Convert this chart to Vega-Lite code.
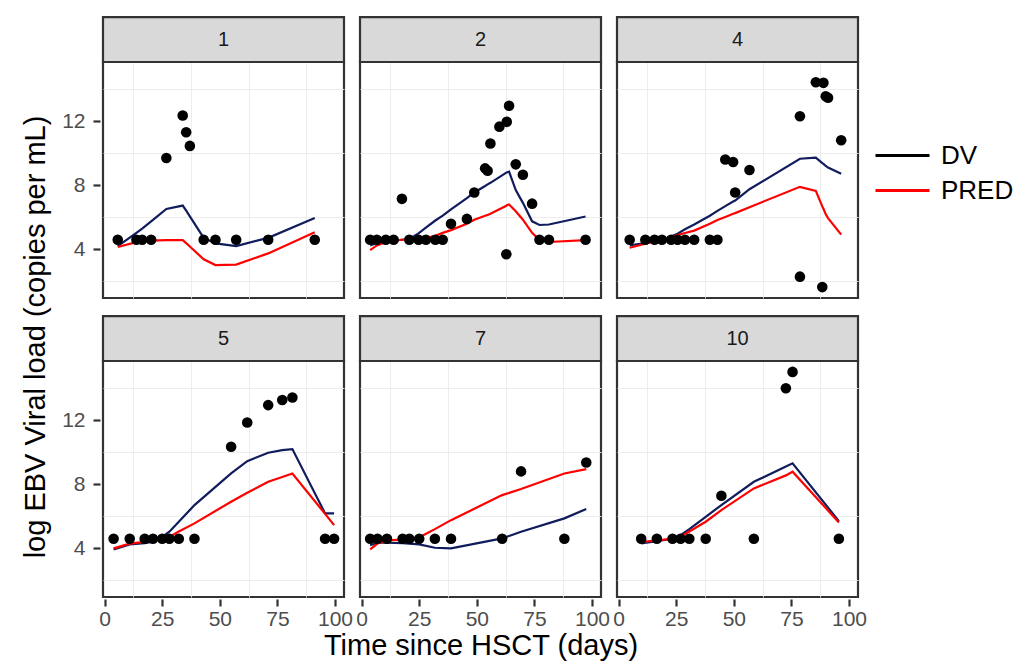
{
  "$schema": "https://vega.github.io/schema/vega-lite/v6.json",
  "background": "white",
  "padding": {"left": 21, "top": 13, "right": 0, "bottom": 4},
  "title": {"text": "log EBV Viral load (copies per mL)", "orient": "left", "anchor": "middle", "fontSize": 29, "fontWeight": "normal", "font": "Liberation Sans", "color": "#000000", "offset": 11},
  "data": {"values": [
    {"ID":1,"t":5.7,"DV":4.6,"IPRED":4.2,"PRED":4.15},
    {"ID":1,"t":13.8,"DV":4.6,"IPRED":5.03,"PRED":4.45},
    {"ID":1,"t":16.3,"DV":4.6,"IPRED":5.29,"PRED":4.5},
    {"ID":1,"t":20.2,"DV":4.6,"IPRED":5.75,"PRED":4.55},
    {"ID":1,"t":26.8,"DV":9.7,"IPRED":6.52,"PRED":4.58},
    {"ID":1,"t":33.9,"DV":12.35,"IPRED":6.73,"PRED":4.58},
    {"ID":1,"t":35.4,"DV":11.3,"IPRED":6.41,"PRED":4.39},
    {"ID":1,"t":37,"DV":10.45,"IPRED":6.06,"PRED":4.18},
    {"ID":1,"t":43,"DV":4.6,"IPRED":4.72,"PRED":3.38},
    {"ID":1,"t":48.1,"DV":4.6,"IPRED":4.37,"PRED":3.02},
    {"ID":1,"t":57.1,"DV":4.6,"IPRED":4.21,"PRED":3.05},
    {"ID":1,"t":71,"DV":4.6,"IPRED":4.72,"PRED":3.75},
    {"ID":1,"t":91.2,"DV":4.6,"IPRED":5.95,"PRED":5.07},
    {"ID":2,"t":3.7,"DV":4.6,"IPRED":4.25,"PRED":3.96},
    {"ID":2,"t":6.6,"DV":4.6,"IPRED":4.4,"PRED":4.25},
    {"ID":2,"t":10.5,"DV":4.6,"IPRED":4.5,"PRED":4.45},
    {"ID":2,"t":13.9,"DV":4.6,"IPRED":4.55,"PRED":4.55},
    {"ID":2,"t":17.5,"DV":7.15,"IPRED":4.6,"PRED":4.6},
    {"ID":2,"t":20.7,"DV":4.6,"IPRED":4.65,"PRED":4.6},
    {"ID":2,"t":24.7,"DV":4.6,"IPRED":5.0,"PRED":4.62},
    {"ID":2,"t":27.9,"DV":4.6,"IPRED":5.35,"PRED":4.7},
    {"ID":2,"t":32,"DV":4.6,"IPRED":5.8,"PRED":4.85},
    {"ID":2,"t":35.2,"DV":4.6,"IPRED":6.1,"PRED":5.03},
    {"ID":2,"t":38.8,"DV":5.6,"IPRED":6.5,"PRED":5.2},
    {"ID":2,"t":45.7,"DV":5.9,"IPRED":7.2,"PRED":5.6},
    {"ID":2,"t":48.9,"DV":7.55,"IPRED":7.55,"PRED":5.85},
    {"ID":2,"t":53.6,"DV":9.05,"IPRED":7.95,"PRED":6.1},
    {"ID":2,"t":54.7,"DV":8.9,"IPRED":8.05,"PRED":6.15},
    {"ID":2,"t":55.9,"DV":10.6,"IPRED":8.15,"PRED":6.22},
    {"ID":2,"t":59.8,"DV":11.65,"IPRED":8.5,"PRED":6.5},
    {"ID":2,"t":62.8,"DV":3.7,"IPRED":8.78,"PRED":6.72},
    {"ID":2,"t":63,"DV":11.95,"IPRED":8.8,"PRED":6.75},
    {"ID":2,"t":64,"DV":12.95,"IPRED":8.85,"PRED":6.8},
    {"ID":2,"t":66.9,"DV":9.3,"IPRED":7.7,"PRED":6.38},
    {"ID":2,"t":70,"DV":8.65,"IPRED":6.9,"PRED":5.85},
    {"ID":2,"t":74,"DV":6.85,"IPRED":5.75,"PRED":5.03},
    {"ID":2,"t":77.2,"DV":4.6,"IPRED":5.52,"PRED":4.58},
    {"ID":2,"t":81.3,"DV":4.6,"IPRED":5.55,"PRED":4.46},
    {"ID":2,"t":97.2,"DV":4.6,"IPRED":6.05,"PRED":4.58},
    {"ID":4,"t":4.8,"DV":4.6,"IPRED":4.25,"PRED":4.1},
    {"ID":4,"t":11.6,"DV":4.6,"IPRED":4.4,"PRED":4.35},
    {"ID":4,"t":15.6,"DV":4.6,"IPRED":4.5,"PRED":4.5},
    {"ID":4,"t":18.8,"DV":4.6,"IPRED":4.6,"PRED":4.6},
    {"ID":4,"t":22.8,"DV":4.6,"IPRED":4.8,"PRED":4.75},
    {"ID":4,"t":25.6,"DV":4.6,"IPRED":4.98,"PRED":4.9},
    {"ID":4,"t":28.8,"DV":4.6,"IPRED":5.25,"PRED":5.02},
    {"ID":4,"t":32.8,"DV":4.6,"IPRED":5.55,"PRED":5.17},
    {"ID":4,"t":39.6,"DV":4.6,"IPRED":6.1,"PRED":5.6},
    {"ID":4,"t":42.9,"DV":4.6,"IPRED":6.4,"PRED":5.83},
    {"ID":4,"t":46.3,"DV":9.6,"IPRED":6.7,"PRED":6.02},
    {"ID":4,"t":49.7,"DV":9.45,"IPRED":6.98,"PRED":6.22},
    {"ID":4,"t":50.6,"DV":7.55,"IPRED":7.04,"PRED":6.26},
    {"ID":4,"t":56.8,"DV":8.95,"IPRED":7.75,"PRED":6.63},
    {"ID":4,"t":78.7,"DV":12.3,"IPRED":9.65,"PRED":7.9},
    {"ID":4,"t":78.7,"DV":2.3,"IPRED":9.65,"PRED":7.9},
    {"ID":4,"t":85.6,"DV":14.42,"IPRED":9.72,"PRED":7.65},
    {"ID":4,"t":88.4,"DV":1.65,"IPRED":9.38,"PRED":6.68},
    {"ID":4,"t":88.9,"DV":14.38,"IPRED":9.33,"PRED":6.53},
    {"ID":4,"t":89.9,"DV":13.55,"IPRED":9.2,"PRED":6.19},
    {"ID":4,"t":90.9,"DV":13.45,"IPRED":9.1,"PRED":5.95},
    {"ID":4,"t":96.6,"DV":10.8,"IPRED":8.72,"PRED":4.92},
    {"ID":5,"t":3.9,"DV":4.6,"IPRED":3.94,"PRED":4.0},
    {"ID":5,"t":10.9,"DV":4.6,"IPRED":4.25,"PRED":4.3},
    {"ID":5,"t":17.4,"DV":4.6,"IPRED":4.32,"PRED":4.41},
    {"ID":5,"t":21,"DV":4.6,"IPRED":4.42,"PRED":4.55},
    {"ID":5,"t":25,"DV":4.6,"IPRED":4.72,"PRED":4.65},
    {"ID":5,"t":28.1,"DV":4.6,"IPRED":5.04,"PRED":4.72},
    {"ID":5,"t":32.2,"DV":4.6,"IPRED":5.66,"PRED":5.05},
    {"ID":5,"t":39,"DV":4.6,"IPRED":6.7,"PRED":5.56},
    {"ID":5,"t":54.9,"DV":10.33,"IPRED":8.67,"PRED":6.91},
    {"ID":5,"t":61.9,"DV":11.85,"IPRED":9.44,"PRED":7.47},
    {"ID":5,"t":71,"DV":12.93,"IPRED":9.96,"PRED":8.15},
    {"ID":5,"t":77.1,"DV":13.25,"IPRED":10.12,"PRED":8.45},
    {"ID":5,"t":81.5,"DV":13.4,"IPRED":10.19,"PRED":8.67},
    {"ID":5,"t":95.7,"DV":4.6,"IPRED":6.18,"PRED":6.15},
    {"ID":5,"t":99.6,"DV":4.6,"IPRED":6.18,"PRED":5.45},
    {"ID":7,"t":3.7,"DV":4.6,"IPRED":4.2,"PRED":3.94},
    {"ID":7,"t":6.9,"DV":4.6,"IPRED":4.35,"PRED":4.3},
    {"ID":7,"t":11,"DV":4.6,"IPRED":4.35,"PRED":4.5},
    {"ID":7,"t":17.8,"DV":4.6,"IPRED":4.33,"PRED":4.55},
    {"ID":7,"t":20.7,"DV":4.6,"IPRED":4.3,"PRED":4.6},
    {"ID":7,"t":25,"DV":4.6,"IPRED":4.25,"PRED":4.69},
    {"ID":7,"t":31.8,"DV":4.6,"IPRED":4.04,"PRED":5.2},
    {"ID":7,"t":38.8,"DV":4.6,"IPRED":4.0,"PRED":5.76},
    {"ID":7,"t":61,"DV":4.6,"IPRED":4.62,"PRED":7.32},
    {"ID":7,"t":69.2,"DV":8.8,"IPRED":5.04,"PRED":7.7},
    {"ID":7,"t":88,"DV":4.6,"IPRED":5.87,"PRED":8.67},
    {"ID":7,"t":97.5,"DV":9.35,"IPRED":6.45,"PRED":8.94},
    {"ID":10,"t":9.8,"DV":4.6,"IPRED":4.31,"PRED":4.4},
    {"ID":10,"t":16.6,"DV":4.6,"IPRED":4.45,"PRED":4.5},
    {"ID":10,"t":23.4,"DV":4.6,"IPRED":4.6,"PRED":4.6},
    {"ID":10,"t":26.9,"DV":4.6,"IPRED":4.83,"PRED":4.75},
    {"ID":10,"t":30.7,"DV":4.6,"IPRED":5.2,"PRED":5.05},
    {"ID":10,"t":37.8,"DV":4.6,"IPRED":5.97,"PRED":5.66},
    {"ID":10,"t":44.6,"DV":7.28,"IPRED":6.7,"PRED":6.39},
    {"ID":10,"t":58.7,"DV":4.6,"IPRED":8.15,"PRED":7.74},
    {"ID":10,"t":72.6,"DV":13.98,"IPRED":9.1,"PRED":8.55},
    {"ID":10,"t":75.5,"DV":15.0,"IPRED":9.3,"PRED":8.78},
    {"ID":10,"t":95.6,"DV":4.6,"IPRED":5.7,"PRED":5.62}
  ]},
  "facet": {"field": "ID", "type": "ordinal", "title": "Time since HSCT (days)",
    "header": {"labels": false, "labelExpr": "''", "labelFontSize": 1, "labelPadding": 0, "labelColor": "transparent", "titleOrient": "bottom", "titleFontSize": 29, "titleFont": "Liberation Sans", "titleFontWeight": "normal", "titleColor": "#000000", "titlePadding": 3}},
  "columns": 3,
  "spacing": {"row": 12, "column": 10},
  "spec": {
    "width": 241,
    "height": 236,
    "resolve": {"axis": {"x": "independent", "y": "independent"}},
    "layer": [
      {
        "transform": [{"aggregate": [{"op": "count", "as": "n"}], "groupby": ["ID"]}],
        "mark": {"type": "rect", "fill": "#d9d9d9", "stroke": "#333333", "strokeWidth": 2.2},
        "encoding": {
          "x": {"datum": -0.7, "type": "quantitative", "scale": {"domain": [-0.7, 103.9], "nice": false, "zero": false},
            "axis": {"title": null, "orient": "top", "values": [12.5, 37.5, 62.5, 87.5], "labels": false, "ticks": false, "domain": false, "grid": true, "gridWidth": 0.9}},
          "x2": {"datum": 103.9},
          "y": {"datum": 15.68, "type": "quantitative", "scale": {"domain": [0.97, 15.68], "nice": false, "zero": false},
            "axis": {"title": null, "orient": "right", "values": [2, 6, 10, 14], "labels": false, "ticks": false, "domain": false, "grid": true, "gridWidth": 0.9}},
          "y2": {"datum": 18.48}
        }
      },
      {
        "transform": [{"fold": ["IPRED", "PRED"], "as": ["series", "val"]}],
        "mark": {"type": "line", "strokeWidth": 2.2},
        "encoding": {
          "x": {"field": "t", "type": "quantitative", "scale": {"domain": [-0.7, 103.9], "nice": false, "zero": false},
            "axis": {"title": null, "orient": "bottom", "values": [0, 25, 50, 75, 100], "gridWidth": 1.8, "ticks": true, "tickSize": 7, "tickWidth": 2.2, "tickColor": "#333333", "labelPadding": 2, "labelFlush": false, "labelOverlap": false}},
          "y": {"field": "val", "type": "quantitative", "scale": {"domain": [0.97, 15.68], "nice": false, "zero": false},
            "axis": {"title": null, "orient": "left", "values": [4, 8, 12], "gridWidth": 1.8, "ticks": true, "tickSize": 7, "tickWidth": 2.2, "tickColor": "#333333", "labelPadding": 8, "labelFlush": false, "labelOverlap": false}},
          "color": {"field": "series", "type": "nominal",
            "scale": {"domain": ["DV", "PRED", "IPRED"], "range": ["#000000", "#ff0000", "#101c5c"]},
            "legend": {"values": ["DV", "PRED"]}}
        }
      },
      {
        "mark": {"type": "point", "filled": true, "size": 112, "color": "#000000", "opacity": 1},
        "encoding": {
          "x": {"field": "t", "type": "quantitative", "axis": null},
          "y": {"field": "DV", "type": "quantitative", "axis": null}
        }
      },
      {
        "transform": [{"aggregate": [{"op": "count", "as": "n"}], "groupby": ["ID"]}],
        "mark": {"type": "text", "fontSize": 20, "font": "Liberation Sans", "color": "#1a1a1a", "baseline": "middle", "align": "center"},
        "encoding": {
          "x": {"datum": 51.6, "type": "quantitative", "axis": null},
          "y": {"datum": 17.08, "type": "quantitative", "axis": null},
          "text": {"field": "ID", "type": "nominal"}
        }
      }
    ]
  },
  "config": {
    "font": "Liberation Sans",
    "view": {"stroke": "#333333", "strokeWidth": 2.2, "fill": "white"},
    "axis": {
      "domain": false,
      "grid": true,
      "gridColor": "#ebebeb",
      "tickColor": "#333333",
      "tickWidth": 2.2,
      "tickSize": 7,
      "labelFont": "Liberation Sans",
      "labelFontSize": 21,
      "labelColor": "#4d4d4d"
    },
    "legend": {
      "orient": "none",
      "legendX": 778,
      "legendY": 72,
      "title": null,
      "labelFontSize": 26,
      "labelFont": "Liberation Sans",
      "labelColor": "#000000",
      "symbolType": "M-1.35,0H1.35",
      "symbolSize": 1600,
      "symbolStrokeWidth": 3,
      "labelOffset": 17,
      "rowPadding": 0,
      "labelLimit": 200
    }
  }
}
